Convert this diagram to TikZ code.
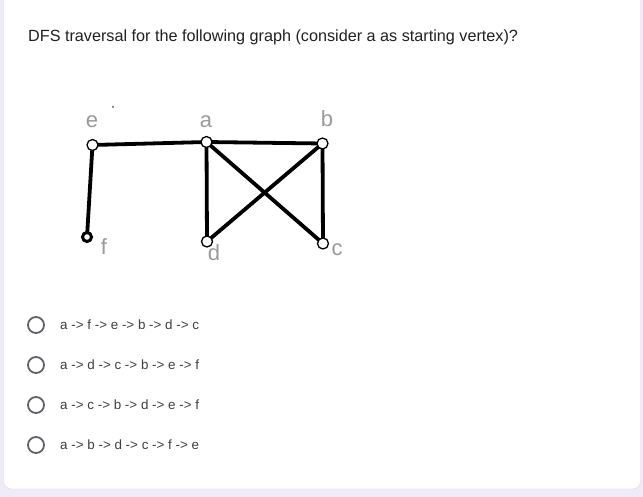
\documentclass[tikz,border=0pt]{standalone}
\usepackage{fontspec}
\setmainfont{Liberation Sans}
\usepackage{tikz}
\usetikzlibrary{positioning}
\definecolor{formbg}{HTML}{F0EBF8}
\definecolor{cardline}{HTML}{DADCE0}
\definecolor{inktext}{HTML}{202124}
\definecolor{optext}{HTML}{3C4043}
\definecolor{radio}{HTML}{5F6368}
\definecolor{pencil}{HTML}{9A9A9A}

\begin{document}
\begin{tikzpicture}[x=1pt,y=-1pt,
    vertex/.style={draw,circle,fill=white,line width=1.3pt,inner sep=0pt,minimum size=11pt},
    edge/.style={line width=3.8pt},
    hand/.style={text=pencil,font=\fontsize{22}{22}\selectfont},
    option/.style={anchor=base west,text=optext,inner sep=0pt,font=\fontsize{13.4}{16}\selectfont},
    radiobtn/.style={draw=radio,circle,line width=1.8pt,minimum size=16pt,inner sep=0pt}]
  \useasboundingbox (0,0) rectangle (643,497);
  \fill[formbg] (0,0) rectangle (643,497);
  \draw[cardline,fill=white,rounded corners=8pt] (3.5,-12) rectangle (640.5,489);

  % question
  \node[anchor=base west,inner sep=0pt,text=inktext,font=\fontsize{16.2}{19}\selectfont] (question) at (28,42)
    {DFS traversal for the following graph (consider a as starting vertex)?};

  % the graph
  \coordinate (e) at (92.5,145);
  \coordinate (a) at (206.5,142);
  \coordinate (b) at (322.5,143.5);
  \coordinate (d) at (207,241.5);
  \coordinate (c) at (323,243.5);
  \coordinate (f) at (87,237);

  \draw[edge] (e) -- (a) -- (b);
  \draw[edge] (a) -- (d) -- (b) -- (c) -- (a);
  \draw[edge] (e) -- (f);

  \node[vertex] (ve) at (e) {};
  \node[vertex] (va) at (a) {};
  \node[vertex] (vb) at (b) {};
  \node[vertex] (vd) at (d) {};
  \node[vertex] (vc) at (c) {};
  \node[draw,circle,fill=white,line width=3pt,inner sep=0pt,minimum size=9pt] (vf) at (f) {};

  \node[hand] (le) at (92,122) {e};
  \node[hand] (la) at (206,122) {a};
  \node[hand] (lb) at (327,119) {b};
  \node[hand] (lf) at (104,247) {f};
  \node[hand] (ld) at (214,253) {d};
  \node[hand] (lc) at (337,250) {c};
  \fill[black!70] (113,107) circle (1pt);

  % answers
  \foreach \y/\txt [count=\i] in {329.5/{a -> f -> e -> b -> d -> c},
                                  369.5/{a -> d -> c -> b -> e -> f},
                                  409.5/{a -> c -> b -> d -> e -> f},
                                  449.5/{a -> b -> d -> c -> f -> e}}{
    \node[radiobtn] (radio\i) at (36,\y-4.5) {};
    \node[option] (answer\i) at (60,\y) {\txt};
  }
\end{tikzpicture}
\end{document}
